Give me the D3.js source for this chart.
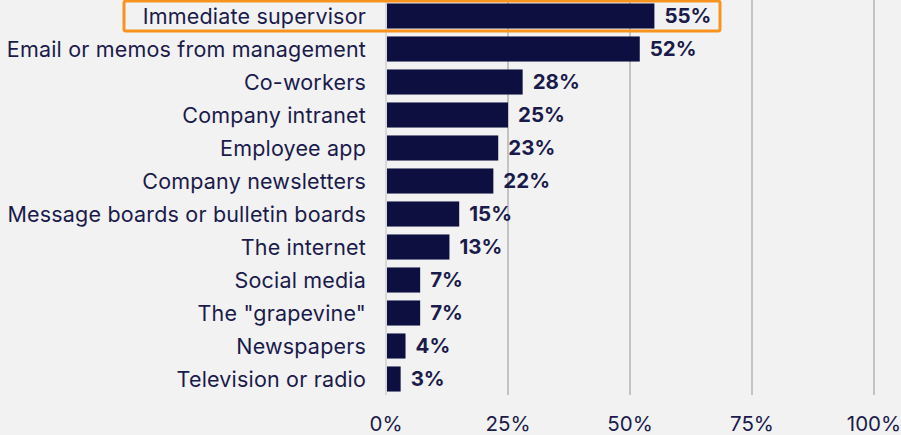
<!DOCTYPE html>
<html>
<head>
<meta charset="utf-8">
<script src="https://cdn.jsdelivr.net/npm/d3@7"></script>
<style>
  body { margin: 0; background: #f2f2f2; }
  svg { display: block; font-family: Inter, "Noto Sans", sans-serif; }
</style>
</head>
<body>
<svg id="chart" width="901" height="435"></svg>
<script>
var categories = ['Immediate supervisor', 'Email or memos from management', 'Co-workers',
  'Company intranet', 'Employee app', 'Company newsletters', 'Message boards or bulletin boards',
  'The internet', 'Social media', 'The "grapevine"', 'Newspapers', 'Television or radio'];
var values = [55, 52, 28, 25, 23, 22, 15, 13, 7, 7, 4, 3];
var ticks = [0, 25, 50, 75, 100];
var highlight = 'Immediate supervisor';

var svg = d3.select('#chart');
var x = d3.scaleLinear().domain([0, 100]).range([386, 874]);
var y = d3.scaleBand().domain(categories).range([-0.5, 395.5]).paddingInner(0.24).paddingOuter(0.12);

// grid
svg.append('g').selectAll('line').data(ticks).join('line')
  .attr('x1', d => x(d)).attr('x2', d => x(d))
  .attr('y1', 0).attr('y2', 395)
  .attr('stroke', d => d === 0 ? '#d0d0d0' : '#b3b3b3')
  .attr('stroke-width', 1.5);

svg.append('g').selectAll('text').data(ticks).join('text')
  .attr('x', d => x(d)).attr('y', 431)
  .attr('text-anchor', 'middle')
  .attr('font-size', 20.5).attr('fill', '#1a1b4b')
  .text(d => d + '%');

// highlight box
var hy = y(highlight);
svg.append('rect')
  .attr('x', 124).attr('y', hy - 2.5)
  .attr('width', 596).attr('height', y.bandwidth() + 5)
  .attr('rx', 2)
  .attr('fill', 'none').attr('stroke', '#f7931e').attr('stroke-width', 3);

// bars
svg.append('g').selectAll('rect').data(categories).join('rect')
  .attr('x', x(0) + 1).attr('y', d => y(d))
  .attr('width', (d, i) => x(values[i]) - x(0) - 1)
  .attr('height', y.bandwidth())
  .attr('fill', '#0c0f3f');

// category labels
svg.append('g').selectAll('text').data(categories).join('text')
  .attr('x', 366).attr('y', d => y(d) + y.bandwidth() / 2)
  .attr('dy', '0.36em').attr('text-anchor', 'end')
  .attr('font-size', 21.5).attr('letter-spacing', 0.18).attr('fill', '#1a1b4b')
  .text(d => d);

// value labels
svg.append('g').selectAll('text').data(categories).join('text')
  .attr('x', (d, i) => x(values[i]) + 10).attr('y', d => y(d) + y.bandwidth() / 2)
  .attr('dy', '0.36em')
  .attr('font-size', 20.5).attr('font-weight', 'bold').attr('fill', '#1a1b4b')
  .text((d, i) => values[i] + '%');
</script>
</body>
</html>
